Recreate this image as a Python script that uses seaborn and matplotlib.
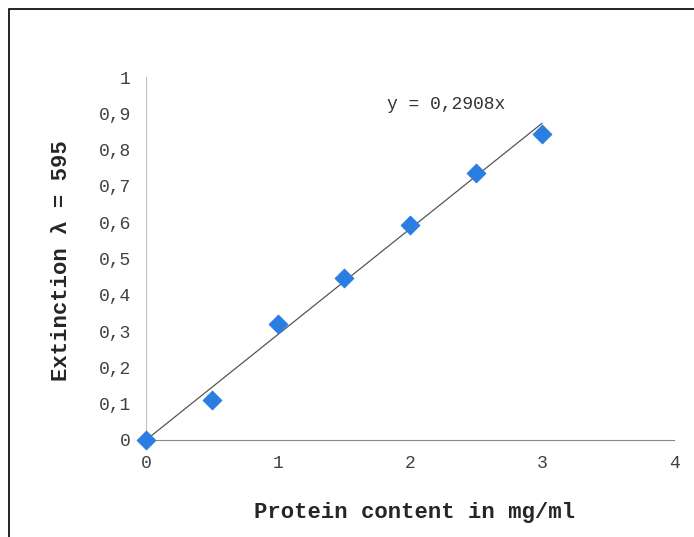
import matplotlib
matplotlib.use("Agg")
import matplotlib.pyplot as plt
import seaborn as sns
import pandas as pd
import numpy as np
from matplotlib.patches import Rectangle

# Datos
protein = [0, 0.5, 1, 1.5, 2, 2.5, 3]
extinction = [0, 0.11, 0.32, 0.446, 0.592, 0.735, 0.843]
slope = 0.2908
trend_x = [0, 3]

xticks = [0, 1, 2, 3, 4]
yticks = [0, 0.1, 0.2, 0.3, 0.4, 0.5, 0.6, 0.7, 0.8, 0.9, 1]
ytick_labels = ["0", "0,1", "0,2", "0,3", "0,4", "0,5", "0,6", "0,7", "0,8", "0,9", "1"]

df = pd.DataFrame({"Protein": protein, "Extinction": extinction})
trend = pd.DataFrame({"x": trend_x, "y": [slope * v for v in trend_x]})

sns.set_style("white")
plt.rcParams["font.family"] = ["Liberation Mono", "DejaVu Sans Mono"]

fig = plt.figure(figsize=(6.94, 5.37), dpi=100)
ax = fig.add_axes([146 / 694, 1 - 440 / 537, 528 / 694, 363 / 537])

# Marco exterior del gráfico
fig.patches.append(Rectangle((9 / 694, -0.05), 1.2, 1 - 9 / 537 + 0.05,
                             transform=fig.transFigure, fill=False,
                             edgecolor="black", linewidth=1.2))

sns.lineplot(data=trend, x="x", y="y", ax=ax, color="#555555", linewidth=0.9, zorder=2)
sns.scatterplot(data=df, x="Protein", y="Extinction", ax=ax, marker="D", s=90,
                color="#2a7de1", edgecolor="#2a7de1", zorder=3, clip_on=False)

ax.set_xlim(0, 4)
ax.set_ylim(0, 1)
ax.set_xticks(xticks)
ax.set_xticklabels([str(t) for t in xticks])
ax.set_yticks(yticks)
ax.set_yticklabels(ytick_labels)

for s in ["top", "right"]:
    ax.spines[s].set_visible(False)
ax.spines["left"].set_color("#c0c0c0")
ax.spines["bottom"].set_color("#888888")
ax.tick_params(axis="y", direction="out", length=5, color="#c0c0c0", labelsize=13,
               labelcolor="#404040", pad=6)
ax.tick_params(axis="x", direction="out", length=5, color="#888888", labelsize=13,
               labelcolor="#404040", pad=6)
ax.grid(False)

ax.set_xlabel("Protein content in mg/ml", fontsize=16, fontweight="bold")
ax.set_ylabel("Extinction λ = 595", fontsize=16, fontweight="bold")
ax.xaxis.set_label_coords(0.509, -0.172)
ax.yaxis.set_label_coords(-0.14, 0.493)

ax.text(2.27, 0.923, "y = 0,2908x", ha="center", va="center", fontsize=13, color="#333333")

fig.savefig("out.png", dpi=100)
